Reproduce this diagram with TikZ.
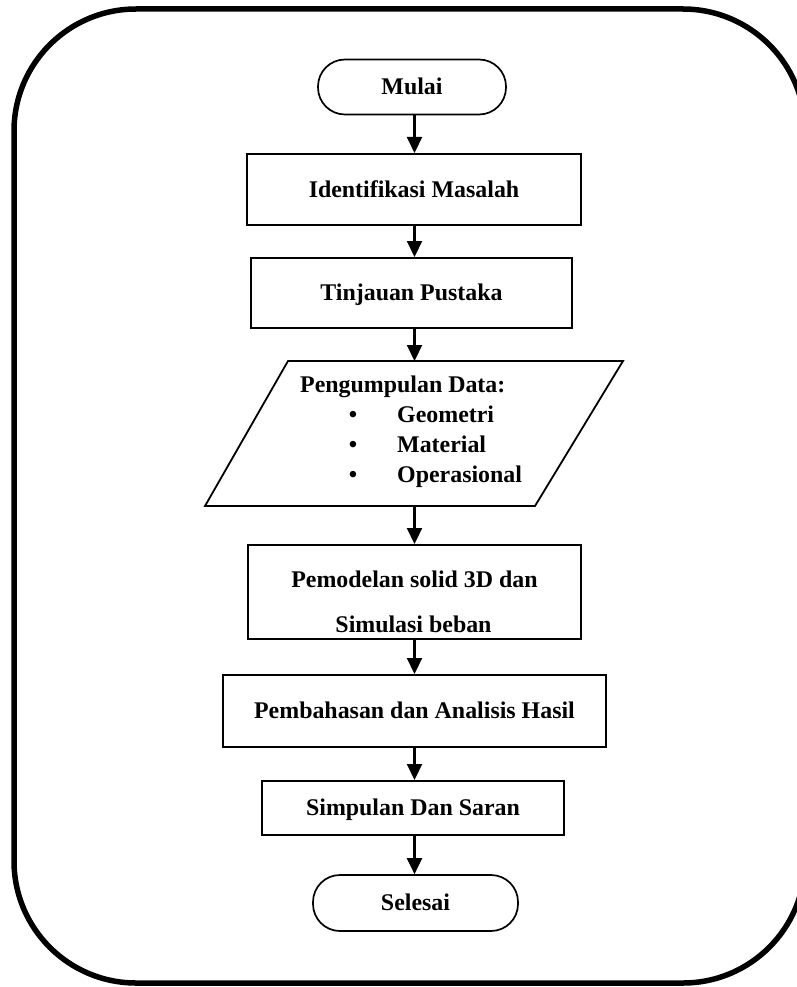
\documentclass[tikz,border=0pt]{standalone}
\usepackage{fontspec}
\setmainfont{Liberation Serif}
\usetikzlibrary{arrows.meta}
\begin{document}
\begin{tikzpicture}[x=1pt,y=-1pt,
  txt/.style={font=\fontsize{23.9}{29}\selectfont\bfseries, inner sep=0pt, text height=15.8pt, text depth=0pt},
  box/.style={draw, line width=2pt, inner sep=0pt},
  term/.style={box, line width=1.7pt, rounded corners=27pt},
  arr/.style={line width=2.2pt, -{Triangle[width=15pt,length=16pt]}},
]
\useasboundingbox (0,0) rectangle (796,987);
\draw[line width=5.5pt, rounded corners=122pt] (14,9) rectangle (805,983);
\coordinate (col) at (414.5,0);

\node[term, txt, minimum width=188pt, minimum height=55pt] (mulai) at (412,87) {Mulai};
\node[box, txt, minimum width=334pt, minimum height=71pt] (ident) at (414,189.5) {Identifikasi Masalah};
\node[box, txt, minimum width=321pt, minimum height=70pt] (tinjau) at (411.5,293) {Tinjauan Pustaka};

\coordinate (dtl) at (288,361);
\coordinate (dtr) at (623,361);
\coordinate (dbr) at (535,506);
\coordinate (dbl) at (205,506);
\draw[line width=1.8pt, line join=miter] (dtl) -- (dtr) -- (dbr) -- (dbl) -- cycle;
\node[txt, anchor=west] (pd) at (300,385) {Pengumpulan Data:};
\node[txt] (b1) at (353,415) {\textbullet};
\node[txt] (b2) at (353,445) {\textbullet};
\node[txt] (b3) at (353,474.5) {\textbullet};
\node[txt, anchor=west] (i1) at (397,415) {Geometri};
\node[txt, anchor=west] (i2) at (397,445) {Material};
\node[txt, anchor=west] (i3) at (397,474.5) {Operasional};

\node[box, minimum width=333pt, minimum height=94pt] (model) at (414.5,592) {};
\node[txt] (m1) at (414.5,580) {Pemodelan solid 3D dan};
\node[txt] (m2) at (413.5,624.5) {Simulasi beban};

\node[box, txt, minimum width=383pt, minimum height=72pt] (bahas) at (414.5,711) {Pembahasan dan Analisis Hasil};
\node[box, txt, minimum width=302pt, minimum height=54pt] (simp) at (413,808) {Simpulan Dan Saran};
\node[term, txt, minimum width=205pt, minimum height=56pt] (selesai) at (415.5,903) {Selesai};

\draw[arr] (mulai.south -| col) -- (ident.north -| col);
\draw[arr] (ident.south -| col) -- (tinjau.north -| col);
\draw[arr] (tinjau.south -| col) -- (dtl -| col);
\draw[arr] (dbl -| col) -- (model.north -| col);
\draw[arr] (model.south -| col) -- (bahas.north -| col);
\draw[arr] (bahas.south -| col) -- (simp.north -| col);
\draw[arr] (simp.south -| col) -- (selesai.north -| col);
\end{tikzpicture}
\end{document}
